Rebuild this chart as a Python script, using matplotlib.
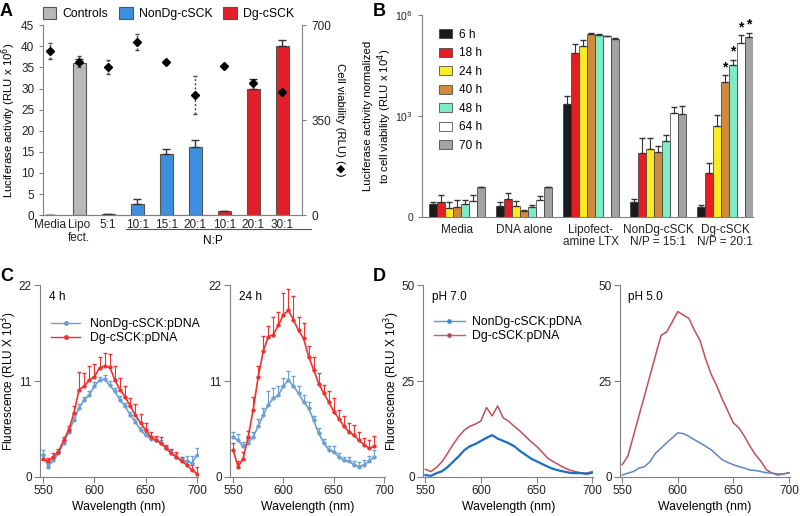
import numpy as np
import matplotlib
matplotlib.use('Agg')
import matplotlib.pyplot as plt
from matplotlib.patches import Patch
from matplotlib.lines import Line2D
from matplotlib.ticker import NullLocator
import matplotlib.transforms as mtransforms

plt.rcParams['font.family'] = ['Liberation Sans', 'DejaVu Sans']
plt.rcParams['font.size'] = 8
plt.rcParams['axes.edgecolor'] = '#808080'
plt.rcParams['xtick.color'] = '#808080'
plt.rcParams['ytick.color'] = '#808080'
plt.rcParams['xtick.labelcolor'] = '#222222'
plt.rcParams['ytick.labelcolor'] = '#222222'

# ---------------- Panel A data ----------------
a_labels = ['Media', 'Lipo\nfect.', '5:1', '10:1', '15:1', '20:1', '10:1', '20:1', '30:1']
a_kind = ['Controls', 'Controls', 'NonDg-cSCK', 'NonDg-cSCK', 'NonDg-cSCK',
          'NonDg-cSCK', 'Dg-cSCK', 'Dg-cSCK', 'Dg-cSCK']
a_luc = [0.1, 36.0, 0.2, 2.7, 14.4, 16.1, 1.1, 30.0, 40.2]
a_luc_err = [0.0, 1.0, 0.0, 1.1, 1.3, 1.8, 0.0, 2.2, 1.3]
a_via = [605, 565, 546, 638, 565, 442, 550, 488, 454]
a_via_err = [30, 20, 27, 30, 8, 70, 8, 8, 0]
a_colors = {'Controls': '#b9b9b9', 'NonDg-cSCK': '#3d8fdf', 'Dg-cSCK': '#e3202a'}

# ---------------- Panel B data ----------------
b_groups = ['Media', 'DNA alone', 'Lipofect-\namine LTX', 'NonDg-cSCK\nN/P = 15:1', 'Dg-cSCK\nN/P = 20:1']
b_times = ['6 h', '18 h', '24 h', '40 h', '48 h', '64 h', '70 h']
b_colors = ['#1b1b1b', '#e51e25', '#fbeb24', '#d08a3e', '#7debc4', '#ffffff', '#a3a3a6']
b_media = [2.5, 2.7, 1.8, 2.0, 2.5, 3.0, 7.6]
b_media_err = [0.3, 1.8, 1.0, 1.2, 0.7, 1.5, 0.3]
b_dna = [2.1, 3.4, 2.1, 1.5, 2.0, 3.3, 7.6]
b_dna_err = [0.7, 1.6, 0.9, 0.1, 0.2, 0.9, 0.3]
b_lipo = [2340, 75900, 117500, 281800, 263000, 234400, 199500]
b_lipo_err = [1550, 65100, 68500, 13200, 12000, 11100, 9500]
b_nondg = [2.8, 78, 102, 87, 182, 1260, 1120]
b_nondg_err = [0.7, 146, 122, 42, 87, 560, 880]
b_dg = [2.0, 21, 513, 10000, 32400, 151000, 224000]
b_dg_err = [0.2, 20, 560, 6200, 13300, 100000, 71000]
b_star = [False, False, False, True, True, True, True]  # Dg-cSCK only

# ---------------- Panel C data (fluorescence, RLU x 10^3) ----------------
c_wl = [550, 555, 560, 565, 570, 575, 580, 585, 590, 595, 600, 605, 610, 615, 620, 625,
        630, 635, 640, 645, 650, 655, 660, 665, 670, 675, 680, 685, 690, 695, 700]
c4_blue = [2.5, 1.2, 1.9, 2.7, 3.9, 5.2, 6.5, 7.9, 8.8, 9.4, 10.4, 11.1, 11.2, 10.5, 9.8, 8.8,
           8.1, 7.1, 6.3, 5.4, 4.8, 4.4, 4.2, 3.9, 3.3, 2.7, 2.3, 1.9, 1.8, 1.6, 2.5]
c4_blue_err = [0.6, 0.5, 0.4, 0.3, 0.3, 0.4, 0.4, 0.5, 0.4, 0.5, 0.5, 0.4, 0.5, 0.5, 0.4, 0.5,
               0.4, 0.3, 0.4, 0.3, 0.4, 0.3, 0.4, 0.3, 0.3, 0.4, 0.3, 0.3, 0.6, 0.8, 0.8]
c4_red = [2.1, 1.8, 2.3, 2.9, 4.2, 5.4, 7.3, 10.0, 10.4, 11.1, 11.5, 12.5, 12.7, 12.6, 11.1, 10.0,
          9.2, 8.1, 7.1, 6.2, 5.4, 4.6, 4.2, 3.9, 3.3, 2.7, 2.3, 1.8, 1.4, 0.8, 0.4]
c4_red_err = [0.5, 0.4, 0.5, 0.3, 0.4, 0.5, 0.8, 2.0, 1.5, 1.6, 1.4, 1.3, 1.5, 1.5, 1.6, 1.4,
              1.2, 1.0, 1.3, 1.0, 0.8, 0.6, 0.5, 0.7, 0.4, 0.5, 0.6, 0.5, 0.4, 0.6, 0.8]

c24_wl = [550, 555, 560, 565, 570, 575, 580, 585, 590, 595, 600, 605, 610, 615, 620,
          625, 630, 635, 640, 645, 650, 655, 660, 665, 670, 675, 680, 685, 690]
c24_blue = [4.6, 4.2, 3.5, 3.9, 4.6, 5.8, 7.1, 8.3, 9.0, 9.4, 10.4, 11.1, 10.4, 9.6, 8.6,
            7.9, 6.5, 5.0, 3.9, 3.1, 2.9, 2.3, 1.9, 1.8, 1.4, 1.2, 1.4, 1.8, 2.3]
c24_blue_err = [0.6, 0.7, 0.5, 0.6, 0.5, 0.8, 0.8, 1.5, 1.2, 1.0, 1.0, 1.0, 1.2, 0.8, 0.8,
                0.7, 0.5, 0.6, 0.4, 0.5, 0.6, 0.5, 0.4, 0.5, 0.4, 0.5, 0.5, 0.6, 0.8]
c24_red = [3.1, 1.2, 2.1, 4.6, 7.7, 11.5, 14.4, 16.1, 16.3, 17.4, 18.6, 19.1, 18.0, 16.8, 15.9,
           13.8, 12.3, 10.7, 9.6, 8.6, 7.5, 6.7, 5.8, 5.2, 4.8, 4.2, 3.7, 3.3, 3.5]
c24_red_err = [0.8, 0.6, 0.8, 0.7, 1.5, 1.2, 1.8, 1.2, 2.0, 1.5, 2.5, 2.5, 2.8, 1.5, 1.8,
               1.2, 1.5, 1.2, 1.0, 1.2, 1.5, 1.0, 1.2, 1.0, 1.2, 1.0, 0.8, 0.9, 1.2]

# ---------------- Panel D data ----------------
d_wl = c_wl
d7_blue = [0.5, 0.3, 1.0, 1.5, 2.6, 4.0, 5.4, 7.0, 8.0, 8.6, 9.4, 10.2, 10.9, 10.0, 9.4, 8.8,
           8.0, 6.8, 5.8, 4.8, 4.1, 3.4, 2.7, 2.1, 1.7, 1.4, 1.1, 1.0, 1.0, 0.8, 1.1]
d7_red = [2.0, 1.4, 2.5, 4.0, 6.2, 8.5, 10.6, 12.2, 13.2, 13.8, 14.6, 18.1, 15.9, 18.5, 15.4, 14.5,
          13.2, 12.0, 10.6, 9.2, 8.0, 6.5, 4.9, 4.0, 3.2, 2.4, 1.8, 1.4, 1.1, 1.0, 1.4]
d5_blue = [0.5, 1.0, 1.4, 2.3, 2.7, 4.0, 6.2, 7.5, 8.9, 10.2, 11.5, 11.3, 10.6, 9.7, 8.9, 8.0,
           7.1, 5.8, 4.5, 3.8, 3.2, 2.7, 2.3, 1.8, 1.7, 1.4, 1.1, 1.0, 0.8, 0.8, 1.1]
d5_red = [3.2, 5.4, 10.6, 15.9, 21.1, 26.4, 31.7, 36.9, 37.8, 40.4, 43.1, 42.2, 41.3, 38.2, 35.6, 30.8,
          26.8, 23.8, 20.3, 17.2, 14.1, 12.8, 10.6, 8.0, 5.8, 4.0, 1.8, 1.0, 0.5, 0.8, 1.1]

fig = plt.figure(figsize=(8.0, 5.16), dpi=100)

# ================= Panel A =================
axA = fig.add_axes([0.054, 0.583, 0.324, 0.368])
xa = np.arange(len(a_labels))
bar_cols = [a_colors[k] for k in a_kind]
axA.bar(xa, a_luc, width=0.45, color=bar_cols, edgecolor='#555555', linewidth=0.8, zorder=2)
axA.errorbar(xa, a_luc, yerr=[np.zeros(len(a_luc)), a_luc_err], fmt='none',
             ecolor='#333333', elinewidth=1, capsize=3, zorder=3)
axA.set_xlim(-0.24, 8.69)
axA.set_ylim(0, 45)
axA.set_yticks(range(0, 50, 5))
axA.set_xticks(xa)
axA.set_xticklabels(a_labels, fontsize=8.5, linespacing=1.05)
axA.tick_params(axis='x', length=0, pad=3)
axA.tick_params(axis='y', labelsize=8.5, direction='out', length=3)
axA.set_ylabel('Luciferase activity (RLU x 10$^6$)', fontsize=8.2, labelpad=2)
axA.spines['top'].set_visible(False)
axA.spines['right'].set_visible(False)

axA2 = axA.twinx()
axA2.set_ylim(0, 700)
axA2.set_yticks([0, 350, 700])
axA2.tick_params(axis='y', labelsize=8.5, length=3)
eb = axA2.errorbar(xa, a_via, yerr=a_via_err, fmt='D', color='black', ms=4.2,
                   ecolor='#444444', elinewidth=1, capsize=1.5, zorder=4)
eb[2][0].set_linestyle((0, (1.5, 1.5)))
axA2.set_ylabel('Cell viability (RLU) (\u25C6)', rotation=270, fontsize=8.2, labelpad=10)
axA2.spines['top'].set_visible(False)
axA2.spines['left'].set_visible(False)

# N:P bracket
trA = mtransforms.blended_transform_factory(axA.transData, axA.transAxes)
axA.plot([2.6, 8.97], [-0.074, -0.074], color='#555555', lw=0.8, transform=trA, clip_on=False)
axA.text(5.6, -0.105, 'N:P', transform=trA, ha='center', va='top', fontsize=8.5)

fig.legend(handles=[Patch(facecolor=a_colors[k], edgecolor='#555555', linewidth=0.8, label=k)
                    for k in ['Controls', 'NonDg-cSCK', 'Dg-cSCK']],
           loc='upper left', bbox_to_anchor=(0.04, 1.008), ncol=3, frameon=False,
           fontsize=8.8, handlelength=1.1, handleheight=1.1, handletextpad=0.5,
           columnspacing=0.9)

# ================= Panel B =================
axB = fig.add_axes([0.5275, 0.5795, 0.414, 0.391])
b_vals = np.array([b_media, b_dna, b_lipo, b_nondg, b_dg])
b_errs = np.array([b_media_err, b_dna_err, b_lipo_err, b_nondg_err, b_dg_err])
w = 8 / 67
xg = np.arange(len(b_groups))
for k in range(len(b_times)):
    xk = xg + (k - 3) * w
    axB.bar(xk, b_vals[:, k], width=w, bottom=0, color=b_colors[k], edgecolor='#333333',
            linewidth=0.5, label=b_times[k], zorder=2)
    axB.errorbar(xk, b_vals[:, k], yerr=[np.zeros(len(xg)), b_errs[:, k]], fmt='none',
                 ecolor='#333333', elinewidth=0.8, capsize=2, zorder=3)
    if b_star[k]:
        top = b_vals[4, k] + b_errs[4, k]
        axB.text(xg[4] + (k - 3) * w, top * 1.1, '*', ha='center', va='bottom',
                 fontsize=10, fontweight='bold')
axB.set_yscale('log')
axB.set_ylim(1, 1e6)
axB.set_xlim(-0.52, 4.42)
axB.set_yticks([1, 1e3, 1e6])
axB.set_yticklabels(['0', '10$^3$', '10$^6$'])
axB.yaxis.set_minor_locator(NullLocator())
axB.set_xticks(xg)
axB.set_xticklabels(b_groups, fontsize=8.5, linespacing=1.05)
axB.tick_params(axis='x', length=0, pad=5)
axB.tick_params(axis='y', labelsize=7.5, length=3)
axB.set_ylabel('Luciferase activity normalized\nto cell viability (RLU x 10$^4$)',
               fontsize=8.2, labelpad=1, linespacing=1.15)
axB.spines['top'].set_visible(False)
axB.spines['right'].set_visible(False)
axB.legend(loc='upper left', bbox_to_anchor=(0.02, 0.985), frameon=False, fontsize=8.5,
           handlelength=1.1, handleheight=0.8, handletextpad=0.6, labelspacing=0.55)


# ================= Panels C and D =================
def style_spec(ax, ymax, yt, xl):
    ax.set_xlim(*xl)
    ax.set_ylim(0, ymax)
    ax.set_yticks(yt)
    ax.set_xticks([550, 600, 650, 700])
    ax.spines['top'].set_visible(False)
    ax.spines['right'].set_visible(False)
    ax.tick_params(labelsize=8.5, length=4, pad=2)
    ax.set_xlabel('Wavelength (nm)', fontsize=8.8, labelpad=3)


c_blue, c_red = '#6c9fd2', '#f0312e'
axC1 = fig.add_axes([0.05, 0.0756, 0.1975, 0.372])
axC2 = fig.add_axes([0.2875, 0.0756, 0.194, 0.372])
for ax, wl, bl, ble, rd, rde, lab in [
        (axC1, c_wl, c4_blue, c4_blue_err, c4_red, c4_red_err, '4 h'),
        (axC2, c24_wl, c24_blue, c24_blue_err, c24_red, c24_red_err, '24 h')]:
    ax.errorbar(wl, bl, yerr=[np.zeros(len(bl)), ble], color=c_blue, marker='o', ms=2,
                lw=1.2, elinewidth=0.8, capsize=1.5)
    ax.errorbar(wl, rd, yerr=[np.zeros(len(rd)), rde], color=c_red, marker='o', ms=2,
                lw=1.2, elinewidth=0.8, capsize=1.5)
    style_spec(ax, 22, [0, 11, 22], (547, 701))
    ax.text(0.06, 0.97, lab, transform=ax.transAxes, fontsize=8.5, va='top')
axC1.set_ylabel('Fluorescence (RLU X 10$^3$)', fontsize=8.5, labelpad=0)
axC1.legend(handles=[Line2D([], [], color=c_blue, marker='o', ms=2.5, lw=1, label='NonDg-cSCK:pDNA'),
                     Line2D([], [], color=c_red, marker='o', ms=2.5, lw=1, label='Dg-cSCK:pDNA')],
            loc='upper left', bbox_to_anchor=(0.0, 0.885), frameon=False, fontsize=8.8,
            handlelength=2.4, handletextpad=0.8, labelspacing=0.15)

axD1 = fig.add_axes([0.529, 0.0756, 0.2125, 0.372])
axD2 = fig.add_axes([0.775, 0.0756, 0.2125, 0.372])
axD1.plot(d_wl, d7_red, color='#c24e55', lw=1.1)
axD1.plot(d_wl, d7_blue, color='#1b6fc2', lw=1.6)
axD2.plot(d_wl, d5_red, color='#c24e55', lw=1.1)
axD2.plot(d_wl, d5_blue, color='#5d86c4', lw=1.1)
for ax, lab in [(axD1, 'pH 7.0'), (axD2, 'pH 5.0')]:
    style_spec(ax, 50, [0, 25, 50], (548, 701))
    ax.text(0.05, 0.97, lab, transform=ax.transAxes, fontsize=8.5, va='top')
axD1.set_ylabel('Fluorescence (RLU X 10$^3$)', fontsize=8.5, labelpad=0)
axD1.legend(handles=[Line2D([], [], color='#4a9be0', marker='o', ms=2.5, mfc='#1b6fc2', lw=1,
                            label='NonDg-cSCK:pDNA'),
                     Line2D([], [], color='#d25a60', marker='o', ms=2.5, mfc='#c01c28', lw=1,
                            label='Dg-cSCK:pDNA')],
            loc='upper left', bbox_to_anchor=(0.0, 0.895), frameon=False, fontsize=8.8,
            handlelength=2.5, handletextpad=0.6, labelspacing=0.15)

# panel letters
for lx, ly, letter in [(0.0, 0.995, 'A'), (0.466, 0.995, 'B'), (0.0, 0.48, 'C'), (0.466, 0.48, 'D')]:
    fig.text(lx, ly, letter, fontsize=13, fontweight='bold', va='top', ha='left')

fig.savefig('out.png', dpi=100)
